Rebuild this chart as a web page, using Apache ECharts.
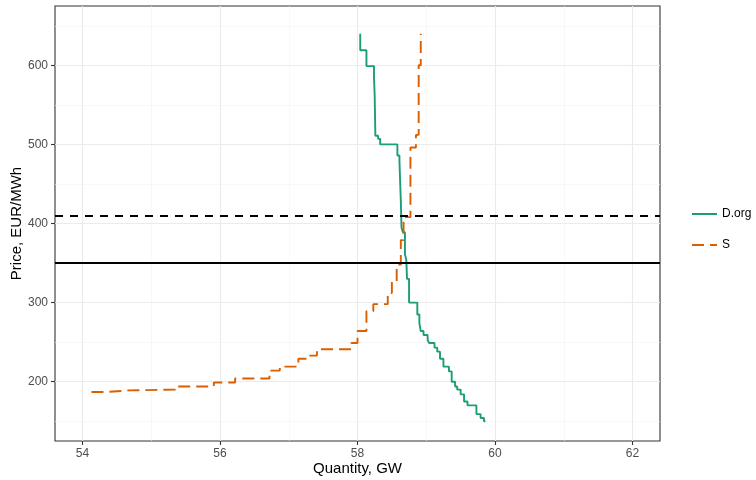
<!DOCTYPE html>
<html>
<head>
<meta charset="utf-8">
<title>Supply and demand curves</title>
<script src="https://cdn.jsdelivr.net/npm/echarts@6/dist/echarts.min.js"></script>
<style>
  html, body { margin: 0; padding: 0; background: #fff; }
  #chart { width: 756px; height: 480px; }
</style>
</head>
<body>
<div id="chart"></div>
<script>
  // demand (D.org): vertical drop first, then step right
  var demandQty = [58.04, 58.13, 58.24, 58.25, 58.26, 58.30, 58.33, 58.58, 58.61, 58.63,
    58.64, 58.66, 58.69, 58.71, 58.72, 58.75, 58.87, 58.90, 58.92, 58.96,
    59.02, 59.04, 59.12, 59.16, 59.20, 59.25, 59.33, 59.37, 59.42, 59.45,
    59.50, 59.55, 59.60, 59.73, 59.79, 59.84, 59.86];
  var demandPrice = [640, 619, 599, 585, 561, 511, 507, 500, 486, 479,
    429, 395, 389, 361, 354, 330, 300, 285, 274, 264,
    259, 253, 249, 243, 238, 229, 219, 213, 200, 194,
    190, 184, 175, 170, 159, 154, 150];

  // supply (S): step right first, then rise
  var supplyQty = [54.13, 54.36, 54.68, 55.35, 55.91, 56.22, 56.72, 56.87, 57.14, 57.25,
    57.41, 57.91, 58.00, 58.13, 58.23, 58.44, 58.50, 58.57, 58.63, 58.67,
    58.77, 58.85, 58.89, 58.92];
  var supplyPrice = [187, 189, 190, 194, 199, 204, 214, 219, 229, 233,
    241, 249, 264, 289, 298, 312, 326, 348, 379, 408,
    496, 512, 600, 640];

  var dashedPrice = 410;
  var solidPrice = 350;

  var xTicks = [54, 56, 58, 60, 62];
  var xMinor = [55, 57, 59, 61];
  var yTicks = [200, 300, 400, 500, 600];
  var yMinor = [150, 250, 350, 450, 550, 650];

  function pairs(xs, ys) {
    return xs.map(function (x, i) { return [x, ys[i]]; });
  }

  var font = '"Liberation Sans", Arial, Helvetica, sans-serif';
  var major = { color: '#EBEBEB', width: 1.1, type: 'solid' };
  var minor = { color: '#F3F3F3', width: 0.6, type: 'solid' };

  var gridLines = []
    .concat(xMinor.map(function (v) { return { xAxis: v, lineStyle: minor }; }))
    .concat(yMinor.map(function (v) { return { yAxis: v, lineStyle: minor }; }))
    .concat(xTicks.map(function (v) { return { xAxis: v, lineStyle: major }; }))
    .concat(yTicks.map(function (v) { return { yAxis: v, lineStyle: major }; }));

  var chart = echarts.init(document.getElementById('chart'));

  var option = {
    animation: false,
    backgroundColor: '#fff',
    textStyle: { fontFamily: font },
    grid: {
      left: 55, right: 96, top: 6, bottom: 39,
      outerBoundsMode: 'none',
      containLabel: false,
      show: true, borderColor: '#333333', borderWidth: 1.1, backgroundColor: '#fff'
    },
    legend: {
      data: ['D.org', 'S'],
      orient: 'vertical',
      left: 686, top: 203,
      itemWidth: 25, itemHeight: 14, itemGap: 19,
      itemStyle: { opacity: 0 },
      textStyle: { fontFamily: font, fontSize: 12, color: '#000' }
    },
    xAxis: {
      type: 'value',
      min: 53.6, max: 62.4,
      name: 'Quantity, GW',
      nameLocation: 'middle', nameGap: 20,
      nameMoveOverlap: false,
      nameTextStyle: { fontFamily: font, fontSize: 15, color: '#000' },
      axisLine: { show: false },
      axisTick: { show: true, length: 4, lineStyle: { color: '#333333', width: 1.1 }, customValues: xTicks },
      axisLabel: { margin: 7, fontSize: 12, color: '#4D4D4D', customValues: xTicks },
      splitLine: { show: false }
    },
    yAxis: {
      type: 'value',
      min: 125, max: 675,
      name: 'Price, EUR/MWh',
      nameLocation: 'middle', nameGap: 31,
      nameMoveOverlap: false,
      nameTextStyle: { fontFamily: font, fontSize: 15, color: '#000' },
      axisLine: { show: false },
      axisTick: { show: true, length: 4, lineStyle: { color: '#333333', width: 1.1 }, customValues: yTicks },
      axisLabel: { margin: 7, fontSize: 12, color: '#4D4D4D', customValues: yTicks },
      splitLine: { show: false }
    },
    series: [
      {
        name: 'grid',
        type: 'line',
        data: [],
        silent: true,
        z: 1,
        markLine: {
          z: 1,
          silent: true, symbol: 'none', label: { show: false },
          emphasis: { disabled: true },
          data: gridLines
        }
      },
      {
        name: 'D.org',
        type: 'line',
        step: 'start',
        symbol: 'none',
        z: 3,
        data: pairs(demandQty, demandPrice),
        lineStyle: { color: '#1B9E77', width: 1.9 },
        itemStyle: { color: '#1B9E77' }
      },
      {
        name: 'S',
        type: 'line',
        step: 'end',
        symbol: 'none',
        z: 3,
        data: pairs(supplyQty, supplyPrice),
        lineStyle: { color: '#D95F02', width: 1.9, type: [12, 6] },
        itemStyle: { color: '#D95F02' }
      },
      {
        name: 'price lines',
        type: 'line',
        data: [],
        silent: true,
        z: 4,
        markLine: {
          z: 5,
          silent: true, symbol: 'none', label: { show: false },
          emphasis: { disabled: true },
          data: [
            { yAxis: dashedPrice, lineStyle: { color: '#000', width: 1.8, type: [8, 7] } },
            { yAxis: solidPrice, lineStyle: { color: '#000', width: 1.8, type: 'solid' } }
          ]
        }
      }
    ]
  };

  chart.setOption(option);
</script>
</body>
</html>
